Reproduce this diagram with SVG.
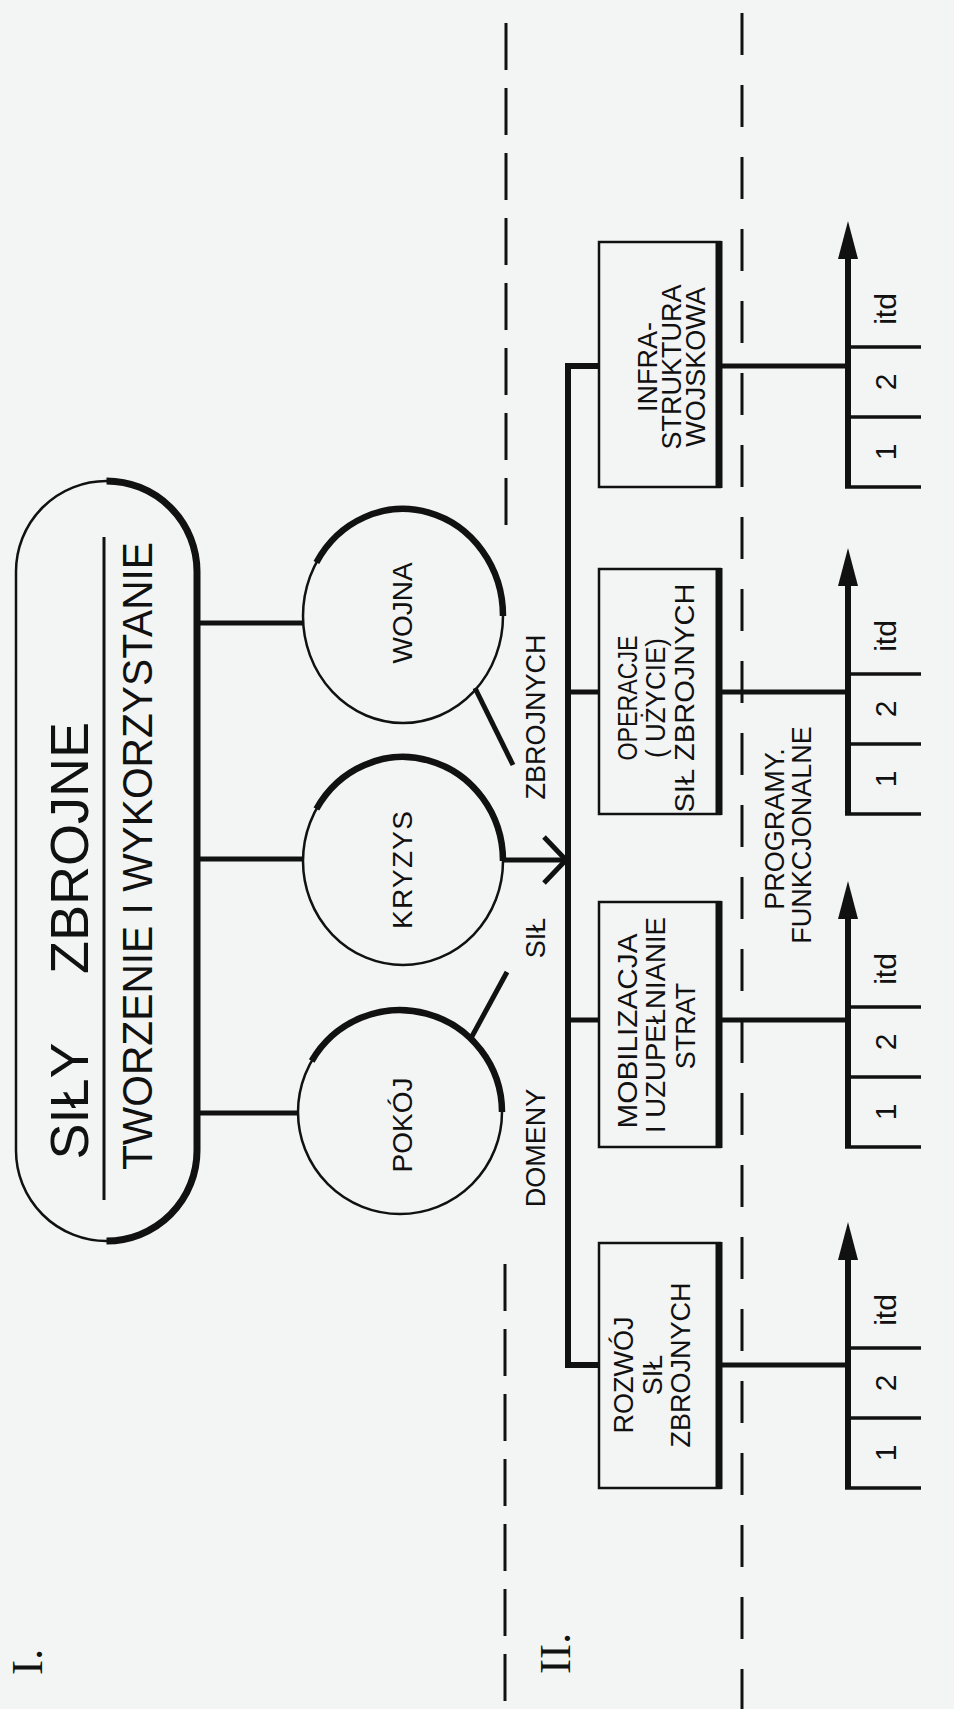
<svg xmlns="http://www.w3.org/2000/svg" width="954" height="1709" viewBox="0 0 954 1709">
<defs>
<style>
.t{font-family:"Liberation Sans",Arial,sans-serif;fill:#111;text-anchor:middle}
.roman{font-family:"Liberation Serif","Times New Roman",serif;fill:#111;font-size:45px}
.thin{fill:none;stroke:#111;stroke-width:2.5}
.thick{fill:none;stroke:#111;stroke-width:7}
.conn{fill:none;stroke:#111;stroke-width:5}
.d1{stroke:#111;stroke-width:3;stroke-dasharray:47 18}
.d2{stroke:#111;stroke-width:3;stroke-dasharray:42 30}
.axis{stroke:#111;stroke-width:6}
.tick{stroke:#111;stroke-width:3.5}
.bt{font-size:27px}
.ct{font-size:28px}
.lbl{font-size:30px}
</style>
</defs>
<rect width="954" height="1709" fill="#f3f4f4"/>

<g id="dividers">
<line x1="506" y1="23" x2="506" y2="525" class="d1"/>
<line x1="505" y1="1264" x2="505" y2="1709" class="d1"/>
<line x1="742" y1="13" x2="742" y2="1709" class="d2"/>
</g>

<g id="section-labels">
<text class="roman" transform="translate(42,1675) rotate(-90)">I.</text>
<text class="roman" transform="translate(570,1674) rotate(-90)">II.</text>
</g>

<g id="connectors">
<line x1="197" y1="623" x2="304" y2="623" class="conn"/>
<line x1="197" y1="859" x2="304" y2="859" class="conn"/>
<line x1="197" y1="1113" x2="299" y2="1113" class="conn"/>
<line x1="502" y1="860" x2="566" y2="860" class="conn"/>
<polyline points="544,837 566,860 544,883" class="conn" stroke-width="4"/>
<line x1="475" y1="688" x2="513" y2="765" class="conn"/>
<line x1="470" y1="1040" x2="507" y2="972" class="conn"/>
<path d="M600,366 H568 V1365 H600" fill="none" stroke="#111" stroke-width="6"/>
<line x1="568" y1="692" x2="600" y2="692" class="conn"/>
<line x1="568" y1="1020" x2="600" y2="1020" class="conn"/>
<line x1="722" y1="366" x2="848" y2="366" class="conn"/>
<line x1="722" y1="692" x2="848" y2="692" class="conn"/>
<line x1="722" y1="1020" x2="848" y2="1020" class="conn"/>
<line x1="722" y1="1365" x2="848" y2="1365" class="conn"/>
</g>

<g id="sily-zbrojne">
<rect x="16" y="481" width="181" height="760" rx="90.5" class="thin"/>
<path d="M106.5,481 A90.5,90.5 0 0 1 197,571.5 L197,1150.5 A90.5,90.5 0 0 1 106.5,1241" class="thick"/>
<line x1="104" y1="537" x2="104" y2="1200" stroke="#111" stroke-width="3"/>
<text class="t" font-size="54" transform="translate(88,1101) rotate(-90)">SIŁY</text>
<text class="t" font-size="54" transform="translate(88,848) rotate(-90)">ZBROJNE</text>
<text class="t" font-size="42" textLength="628" lengthAdjust="spacingAndGlyphs" transform="translate(152,856) rotate(-90)">TWORZENIE I WYKORZYSTANIE</text>
</g>

<g id="wojna">
<ellipse cx="403" cy="616" rx="100" ry="107" class="thin"/>
<path d="M316.4,562.5 A100,107 0 0 1 503,616" fill="none" stroke="#111" stroke-width="6.5"/>
<text class="t ct" transform="translate(412,613) rotate(-90)">WOJNA</text>
</g>
<g id="kryzys">
<ellipse cx="403" cy="861" rx="100" ry="104" class="thin"/>
<path d="M316.4,809 A100,104 0 0 1 503,861" fill="none" stroke="#111" stroke-width="6.5"/>
<text class="t ct" textLength="118" lengthAdjust="spacing" transform="translate(412,870) rotate(-90)">KRYZYS</text>
</g>
<g id="pokoj">
<ellipse cx="400" cy="1112" rx="102" ry="102" class="thin"/>
<path d="M311.7,1061 A102,102 0 0 1 502,1112" fill="none" stroke="#111" stroke-width="6.5"/>
<text class="t ct" transform="translate(412,1125) rotate(-90)">POKÓJ</text>
</g>

<g id="domeny">
<text class="t bt" transform="translate(545,1148) rotate(-90)">DOMENY</text>
<text class="t bt" transform="translate(545,938) rotate(-90)">SIŁ</text>
<text class="t bt" transform="translate(545,717) rotate(-90)">ZBROJNYCH</text>
</g>

<g id="infrastruktura">
<rect x="599" y="242" width="121" height="245" class="thin"/>
<line x1="719" y1="241" x2="719" y2="488" stroke="#111" stroke-width="7"/>
<text class="t bt" transform="translate(657,367) rotate(-90)">INFRA-</text>
<text class="t bt" transform="translate(681,367) rotate(-90)">STRUKTURA</text>
<text class="t bt" transform="translate(705,367) rotate(-90)">WOJSKOWA</text>
</g>
<g id="operacje">
<rect x="599" y="569" width="121" height="245" class="thin"/>
<line x1="719" y1="568" x2="719" y2="815" stroke="#111" stroke-width="7"/>
<text class="t bt" textLength="125" lengthAdjust="spacingAndGlyphs" transform="translate(637,698) rotate(-90)">OPERACJE</text>
<text class="t bt" textLength="120" lengthAdjust="spacingAndGlyphs" transform="translate(665,698) rotate(-90)">( UŻYCIE)</text>
<text class="t bt" textLength="229" lengthAdjust="spacingAndGlyphs" transform="translate(694,698) rotate(-90)">SIŁ ZBROJNYCH</text>
</g>
<g id="mobilizacja">
<rect x="599" y="902" width="121" height="245" class="thin"/>
<line x1="719" y1="901" x2="719" y2="1148" stroke="#111" stroke-width="7"/>
<text class="t bt" textLength="195" lengthAdjust="spacingAndGlyphs" transform="translate(637,1031) rotate(-90)">MOBILIZACJA</text>
<text class="t bt" textLength="216" lengthAdjust="spacingAndGlyphs" transform="translate(665,1025) rotate(-90)">I UZUPEŁNIANIE</text>
<text class="t bt" transform="translate(695,1026) rotate(-90)">STRAT</text>
</g>
<g id="rozwoj">
<rect x="599" y="1243" width="121" height="245" class="thin"/>
<line x1="719" y1="1242" x2="719" y2="1489" stroke="#111" stroke-width="7"/>
<text class="t bt" transform="translate(633,1375) rotate(-90)">ROZWÓJ</text>
<text class="t bt" transform="translate(662,1375) rotate(-90)">SIŁ</text>
<text class="t bt" transform="translate(690,1365) rotate(-90)">ZBROJNYCH</text>
</g>

<g id="programy-label">
<text class="t bt" transform="translate(784,829) rotate(-90)">PROGRAMY.</text>
<text class="t bt" transform="translate(811,835) rotate(-90)">FUNKCJONALNE</text>
</g>

<g id="axis-infra">
<line x1="848" y1="487" x2="848" y2="255" class="axis"/>
<polygon points="848,221 838,259 858,259" fill="#111"/>
<line x1="845" y1="487" x2="921" y2="487" class="tick" stroke-width="4"/>
<line x1="848" y1="417" x2="921" y2="417" class="tick"/>
<line x1="848" y1="347" x2="921" y2="347" class="tick"/>
<text class="t lbl" transform="translate(896,452) rotate(-90)">1</text>
<text class="t lbl" transform="translate(896,382) rotate(-90)">2</text>
<text class="t lbl" transform="translate(896,309) rotate(-90)">itd</text>
</g>
<g id="axis-operacje">
<line x1="848" y1="814" x2="848" y2="582" class="axis"/>
<polygon points="848,548 838,586 858,586" fill="#111"/>
<line x1="845" y1="814" x2="921" y2="814" class="tick" stroke-width="4"/>
<line x1="848" y1="744" x2="921" y2="744" class="tick"/>
<line x1="848" y1="674" x2="921" y2="674" class="tick"/>
<text class="t lbl" transform="translate(896,779) rotate(-90)">1</text>
<text class="t lbl" transform="translate(896,709) rotate(-90)">2</text>
<text class="t lbl" transform="translate(896,636) rotate(-90)">itd</text>
</g>
<g id="axis-mobilizacja">
<line x1="848" y1="1147" x2="848" y2="915" class="axis"/>
<polygon points="848,881 838,919 858,919" fill="#111"/>
<line x1="845" y1="1147" x2="921" y2="1147" class="tick" stroke-width="4"/>
<line x1="848" y1="1077" x2="921" y2="1077" class="tick"/>
<line x1="848" y1="1007" x2="921" y2="1007" class="tick"/>
<text class="t lbl" transform="translate(896,1112) rotate(-90)">1</text>
<text class="t lbl" transform="translate(896,1042) rotate(-90)">2</text>
<text class="t lbl" transform="translate(896,969) rotate(-90)">itd</text>
</g>
<g id="axis-rozwoj">
<line x1="848" y1="1488" x2="848" y2="1256" class="axis"/>
<polygon points="848,1222 838,1260 858,1260" fill="#111"/>
<line x1="845" y1="1488" x2="921" y2="1488" class="tick" stroke-width="4"/>
<line x1="848" y1="1418" x2="921" y2="1418" class="tick"/>
<line x1="848" y1="1348" x2="921" y2="1348" class="tick"/>
<text class="t lbl" transform="translate(896,1453) rotate(-90)">1</text>
<text class="t lbl" transform="translate(896,1383) rotate(-90)">2</text>
<text class="t lbl" transform="translate(896,1310) rotate(-90)">itd</text>
</g>
</svg>
